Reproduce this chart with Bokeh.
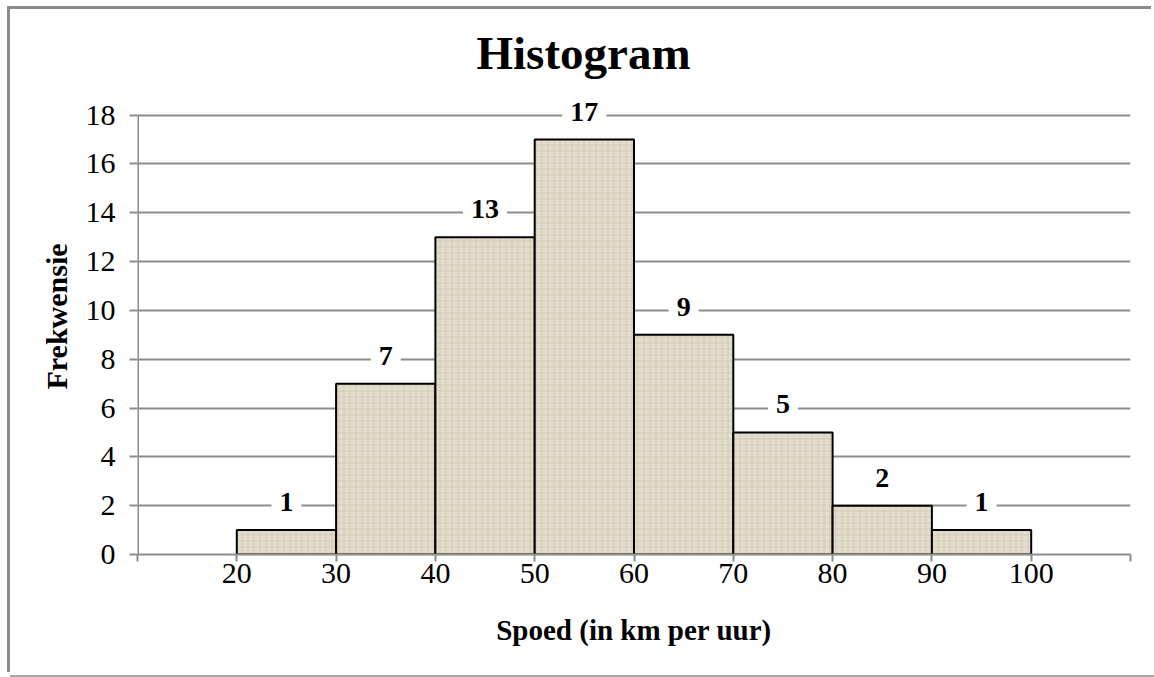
from bokeh.plotting import figure
from bokeh.models import FixedTicker, Label, Range1d, Title
from bokeh.embed import file_html
from bokeh.resources import INLINE

# data
bin_left = [20, 30, 40, 50, 60, 70, 80, 90]
bin_right = [30, 40, 50, 60, 70, 80, 90, 100]
counts = [1, 7, 13, 17, 9, 5, 2, 1]
x_ticks = [10, 20, 30, 40, 50, 60, 70, 80, 90, 100, 110]
x_tick_labels = ["", "20", "30", "40", "50", "60", "70", "80", "90", "100", ""]
y_ticks = [0, 2, 4, 6, 8, 10, 12, 14, 16, 18]

FONT = "Liberation Serif"
GRID = "#8c8c8c"

p = figure(width=1144, height=666, output_backend="svg", toolbar_location=None,
           x_range=Range1d(x_ticks[0], x_ticks[-1]), y_range=Range1d(0, 19.5),
           min_border_left=127, min_border_right=24, min_border_top=69,
           min_border_bottom=121)
p.styles = {"margin-left": "10px", "margin-top": "9px",
            "box-shadow": "-3px -3px 0 0 #8c8c8c, 0 2px 0 0 #a6a6a6"}
p.outline_line_color = None
p.background_fill_color = "white"
p.border_fill_color = "white"

p.title = Title(text="Histogram", align="left", text_font=FONT, text_font_size="47px",
                text_font_style="bold", text_color="black", offset=339, standoff=0)

p.quad(left=bin_left, right=bin_right, bottom=0, top=counts,
       fill_color="#e4ddcc", line_color="black", line_width=2,
       hatch_pattern="cross", hatch_color="#c7bca6", hatch_alpha=0.55,
       hatch_scale=6, hatch_weight=1)

for xl, xr, c in zip(bin_left, bin_right, counts):
    p.add_layout(Label(x=(xl + xr) / 2, y=c, y_offset=28, text=str(c),
                       text_align="center", text_baseline="middle",
                       text_font=FONT, text_font_size="28px", text_font_style="bold",
                       text_color="black",
                       background_fill_color="white", padding=8))

# vertical axis line from 0 to the top tick
p.segment(x0=[x_ticks[0]], y0=[y_ticks[0]], x1=[x_ticks[0]], y1=[y_ticks[-1]],
          line_color=GRID, line_width=3)

# axes
xa = p.xaxis[0]
xa.ticker = FixedTicker(ticks=x_ticks)
xa.major_label_overrides = {t: l for t, l in zip(x_ticks, x_tick_labels)}
xa.axis_line_color = GRID
xa.axis_line_width = 2
xa.major_tick_line_color = GRID
xa.major_tick_line_width = 2
xa.major_tick_out = 7
xa.major_tick_in = 0
xa.minor_tick_line_color = None
xa.major_label_text_font = FONT
xa.major_label_text_font_size = "30px"
xa.major_label_text_color = "black"
xa.major_label_standoff = 2
xa.axis_label = "Spoed (in km per uur)"
xa.axis_label_text_font = FONT
xa.axis_label_text_font_size = "29px"
xa.axis_label_text_font_style = "bold"
xa.axis_label_text_color = "black"
xa.axis_label_standoff = 28

ya = p.yaxis[0]
ya.ticker = FixedTicker(ticks=y_ticks)
ya.axis_line_color = None
ya.major_tick_line_color = GRID
ya.major_tick_line_width = 2
ya.major_tick_out = 8
ya.major_tick_in = 0
ya.minor_tick_line_color = None
ya.major_label_text_font = FONT
ya.major_label_text_font_size = "30px"
ya.major_label_text_color = "black"
ya.major_label_standoff = 14
ya.axis_label = "Frekwensie"
ya.axis_label_text_font = FONT
ya.axis_label_text_font_size = "30px"
ya.axis_label_text_font_style = "bold"
ya.axis_label_text_color = "black"
ya.axis_label_standoff = 10

p.xgrid.grid_line_color = None
p.ygrid.ticker = FixedTicker(ticks=y_ticks)
p.ygrid.grid_line_color = GRID
p.ygrid.grid_line_width = 2

open("out.html", "w").write(file_html(p, INLINE))
